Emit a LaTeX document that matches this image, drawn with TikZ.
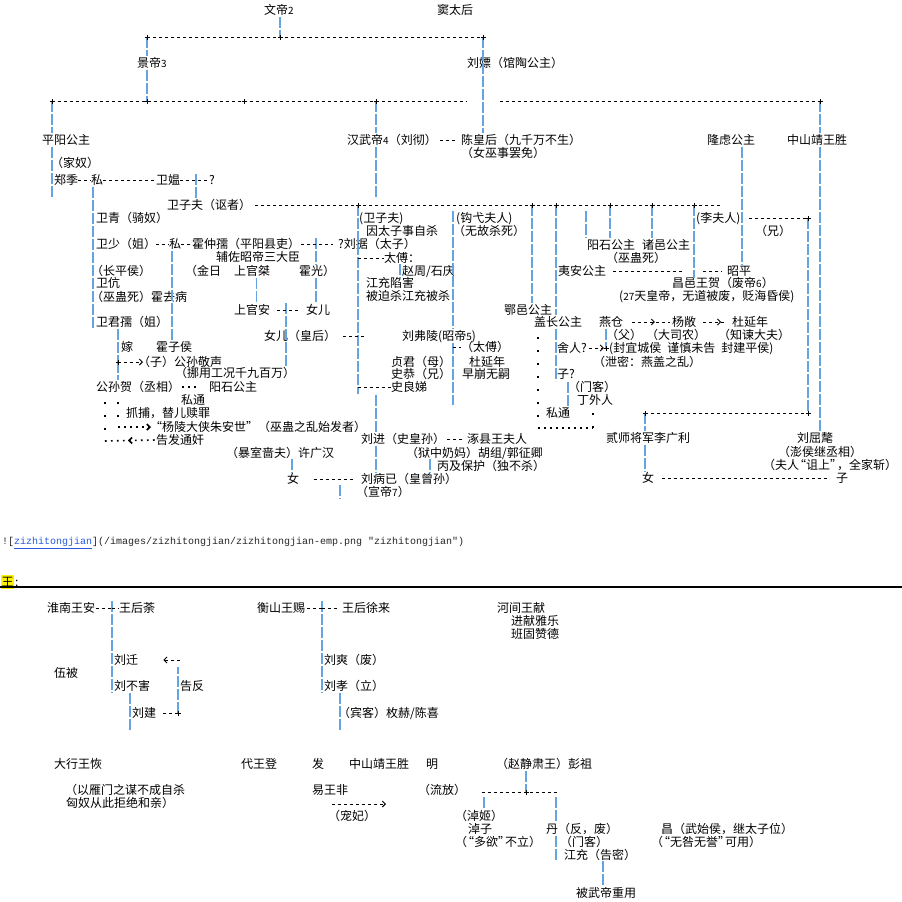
\documentclass[tikz,border=0pt]{standalone}
\usepackage{fontspec}
\setmainfont{Noto Sans CJK SC}
\newfontfamily\linkmono{Liberation Mono}
\usepackage{xcolor}
\usepackage{tikz}
\usetikzlibrary{arrows.meta,positioning,decorations.markings}
\definecolor{barblue}{RGB}{100,165,225}
\definecolor{linkblue}{RGB}{40,90,220}
\newcommand\dnum[1]{{\fontsize{10pt}{10pt}\selectfont #1}}
\newcommand\qopen{\kern-5pt“}
\newcommand\qclose{”\kern-5pt}

\begin{document}
\begin{tikzpicture}[x=1pt, y=-1pt,
  nm/.style={anchor=west, inner sep=0pt, text height=11pt, text depth=2pt, font=\fontsize{12pt}{13pt}\selectfont},
  jn/.style={inner sep=0pt, minimum size=0pt},
  vbar/.style={draw=barblue, line width=1.4pt, dash pattern=on 11pt off 2pt},
  hdash/.style={draw=black, line width=0.9pt, dash pattern=on 3pt off 3pt},
  dotv/.style={draw=black, line width=1.6pt, dash pattern=on 1.6pt off 11.4pt},
  doth/.style={draw=black, line width=1.6pt, dash pattern=on 1.6pt off 4.4pt},
  arrowend/.style={-{Straight Barb[length=3pt,width=6pt]}},
  midhead/.style={postaction={decorate}, decoration={markings, mark=at position #1 with {\arrow{Straight Barb[length=3pt,width=6pt]}}}},
  midback/.style={postaction={decorate}, decoration={markings, mark=at position #1 with {\arrowreversed{Straight Barb[length=3pt,width=6pt]}}}}
]
\fill[white] (0,0) rectangle (902,902);
\useasboundingbox (0,0) rectangle (902,902);

% 文帝 景帝 武帝
\node[nm] (wendi) at (264,10) {文帝\dnum{2}};
\node[nm] (doutaihou) at (437,10) {窦太后};
\node[nm] (jingdi) at (137,63) {景帝\dnum{3}};
\node[nm] (liupiao) at (467,63) {刘嫖（馆陶公主）};
\node[nm] (pingyang) at (42,140) {平阳公主};
\node[nm] (wudi) at (347,140) {汉武帝\dnum{4}（刘彻）};
\node[nm] (chenhou) at (461,140) {陈皇后（九千万不生）};
\node[nm] (chenhou2) at (461,153) {（女巫事罢免）};
\node[nm] (longlv) at (707,140) {隆虑公主};
\node[nm] (zhongshan) at (787,140) {中山靖王胜};

% 卫氏
\node[nm] (jianu) at (51,163) {（家奴）};
\node[nm] (zhengji) at (54,180) {郑季};
\node[nm] (si1) at (91,180) {私};
\node[nm] (weiao) at (156,180) {卫媪};
\node[nm] (wen1) at (209,180) {?};
\node[nm] (weizifu) at (167,205) {卫子夫（讴者）};
\node[nm] (weiqing) at (96,218) {卫青（骑奴）};
\node[nm] (weishao) at (96,244) {卫少（姐）};
\node[nm] (si2) at (169,244) {私};
\node[nm] (huozhongru) at (192,244) {霍仲孺（平阳县吏）};
\node[nm] (fuzuo) at (216,257) {辅佐昭帝三大臣};
\node[nm] (changping) at (91,271) {（长平侯）};
\node[nm] (jinri) at (185,271) {（金日};
\node[nm] (shangguanjie) at (234,271) {上官桀};
\node[nm] (huoguang) at (299,271) {霍光）};
\node[nm] (weikang) at (96,283) {卫伉};
\node[nm] (huoqubing) at (91,297) {（巫蛊死）霍去病};
\node[nm] (shangguanan) at (234,310) {上官安};
\node[nm] (nver1) at (306,310) {女儿};
\node[nm] (weijunru) at (96,322) {卫君孺（姐）};
\node[nm] (nver2) at (264,336) {女儿（皇后）};
\node[nm] (jia) at (121,347) {嫁};
\node[nm] (huozihou) at (156,347) {霍子侯};
\node[nm] (jingsheng) at (138,362) {（子）公孙敬声};
\node[nm] (nuoyong) at (175,373) {（挪用工况千九百万）};
\node[nm] (gongsunhe) at (96,387) {公孙贺（丞相）};
\node[nm] (yangshi2) at (209,387) {阳石公主};
\node[nm] (sitong1) at (181,400) {私通};
\node[nm] (zhuabu) at (126,413) {抓捕，替儿赎罪};
\node[nm] (zhuanshi) at (150,427) {“杨陵大侠朱安世”（巫蛊之乱始发者）};
\node[nm] (gaofa) at (156,440) {告发通奸};
\node[nm] (xuguanghan) at (226,453) {（暴室啬夫）许广汉};
\node[nm] (nv3) at (287,479) {女};

% 刘据 刘弗陵
\node[nm] (weizifu2) at (359,218) {(卫子夫)};
\node[nm] (yintaizi) at (366,231) {因太子事自杀};
\node[nm] (liuju) at (338,244) {?刘据（太子）};
\node[nm] (taifu) at (384,258) {太傅：};
\node[nm] (zhaozhou) at (402,271) {赵周/石庆};
\node[nm] (jiangchong) at (366,283) {江充陷害};
\node[nm] (beipo) at (366,296) {被迫杀江充被杀};
\node[nm] (liufuling) at (402,336) {刘弗陵(昭帝\dnum{5})};
\node[nm] (taifu2) at (461,347) {（太傅）};
\node[nm] (zhenjun) at (391,362) {贞君（母）};
\node[nm] (duyannian) at (469,362) {杜延年};
\node[nm] (shigong) at (391,374) {史恭（兄）};
\node[nm] (zaobeng) at (462,374) {早崩无嗣};
\node[nm] (shiliangdi) at (391,387) {史良娣};
\node[nm] (liujin) at (361,439) {刘进（史皇孙）};
\node[nm] (zhuoxian) at (467,439) {涿县王夫人};
\node[nm] (yuzhong) at (406,453) {（狱中奶妈）胡组/郭征卿};
\node[nm] (bingji) at (437,466) {丙及保护（独不杀）};
\node[nm] (liubingyi) at (361,479) {刘病已（皇曾孙）};
\node[nm] (xuandi) at (356,492) {（宣帝\dnum{7}）};

% 钩弋 公主 李夫人
\node[nm] (gouyi) at (456,218) {(钩弋夫人)};
\node[nm] (wugusha) at (453,231) {（无故杀死）};
\node[nm] (eyi) at (504,310) {鄂邑公主};
\node[nm] (yian) at (558,271) {夷安公主};
\node[nm] (gaizhang) at (534,322) {盖长公主};
\node[nm] (yangshi) at (587,245) {阳石公主};
\node[nm] (zhuyi) at (642,245) {诸邑公主};
\node[nm] (wugusi) at (606,258) {（巫蛊死）};
\node[nm] (lifuren) at (696,218) {(李夫人)};
\node[nm] (xiong) at (755,231) {（兄）};
\node[nm] (zhaoping) at (727,271) {昭平};
\node[nm] (changyi) at (672,283) {昌邑王贺（废帝\dnum{6}）};
\node[nm] (ershiqi) at (619,296) {(\dnum{27}天皇帝，无道被废，贬海昏侯)};
\node[nm] (yancang) at (599,322) {燕仓};
\node[nm] (yangchang) at (672,322) {杨敞};
\node[nm] (duyannian2) at (732,322) {杜延年};
\node[nm] (fu) at (606,335) {（父）};
\node[nm] (dasinong) at (646,335) {（大司农）};
\node[nm] (zhijian) at (718,335) {（知谏大夫）};
\node[nm] (sheren) at (557,348) {舍人?};
\node[nm] (fengyi) at (609,348) {(封宜城侯\hspace{6pt}谨慎未告\hspace{6pt}封建平侯)};
\node[nm] (xiemi) at (593,362) {（泄密：燕盖之乱）};
\node[nm] (zi1) at (557,374) {子?};
\node[nm] (menke) at (568,387) {（门客）};
\node[nm] (dingwairen) at (577,400) {丁外人};
\node[nm] (sitong2) at (546,413) {私通};
\node[nm] (ershi) at (606,438) {贰师将军李广利};
\node[nm] (liuqumao) at (797,438) {刘屈氂};
\node[nm] (pengheou) at (778,452) {（澎侯继丞相）};
\node[nm] (furen) at (763,465) {（夫人\qopen 诅上\qclose，全家斩）};
\node[nm] (nv4) at (642,478) {女};
\node[nm] (zi2) at (836,478) {子};

% 链接与分隔
\node[anchor=west, inner sep=0pt, text=black!85, font=\linkmono\fontsize{10pt}{12pt}\selectfont] (mdlink) at (2,543) {![{\color{linkblue}\underline{zizhitongjian}}](/images/zizhitongjian/zizhitongjian-emp.png "zizhitongjian")};
\node[nm, fill=yellow, inner sep=0.5pt] (wang) at (1,582) {王};
\node[nm, right=0.5pt of wang] (maohao) {:};
\coordinate (ruleL) at (0,587);
\coordinate (ruleR) at (902,587);
\draw[line width=1.3pt] (ruleL) -- (ruleR);

% 诸王
\node[nm] (huainan) at (47,608) {淮南王安};
\node[nm] (wanghoutu) at (119,608) {王后荼};
\node[nm] (liuqian) at (114,660) {刘迁};
\node[nm] (wubei) at (54,673) {伍被};
\node[nm] (liubuhai) at (114,686) {刘不害};
\node[nm] (gaofan) at (180,686) {告反};
\node[nm] (liujian) at (132,713) {刘建};
\node[nm] (hengshan) at (257,608) {衡山王赐};
\node[nm] (xulai) at (342,608) {王后徐来};
\node[nm] (liushuang) at (324,660) {刘爽（废）};
\node[nm] (liuxiao) at (324,686) {刘孝（立）};
\node[nm] (binke) at (338,713) {（宾客）枚赫/陈喜};
\node[nm] (hejian) at (497,608) {河间王献};
\node[nm] (jinxian) at (511,621) {进献雅乐};
\node[nm] (bangu) at (511,634) {班固赞德};
\node[nm] (daxing) at (54,764) {大行王恢};
\node[nm] (yanmen) at (65,790) {（以雁门之谋不成自杀};
\node[nm] (xiongnu) at (66,803) {匈奴从此拒绝和亲）};
\node[nm] (daiwang) at (241,764) {代王登};
\node[nm] (fa) at (312,764) {发};
\node[nm] (zhongshan2) at (349,764) {中山靖王胜};
\node[nm] (ming) at (426,764) {明};
\node[nm] (pengzu) at (496,764) {（赵静肃王）彭祖};
\node[nm] (yiwang) at (312,790) {易王非};
\node[nm] (liufang) at (418,790) {（流放）};
\node[nm] (chongfei) at (328,816) {（宠妃）};
\node[nm] (zhuoji) at (455,816) {（淖姬）};
\node[nm] (zhuozi) at (468,829) {淖子};
\node[nm] (duoyu) at (455,842) {（\qopen 多欲\qclose 不立）};
\node[nm] (dan) at (546,829) {丹（反，废）};
\node[nm] (menke2) at (560,842) {（门客）};
\node[nm] (jiangchong2) at (564,855) {江充（告密）};
\node[nm] (beiwudi) at (576,893) {被武帝重用};
\node[nm] (chang) at (661,829) {昌（武始侯，继太子位）};
\node[nm] (wujiu) at (651,842) {（\qopen 无咎无誉\qclose 可用）};

% 交点
\foreach \n/\x/\y in {jA/147/37, jB/280/37, jC/483/37, jD/52/101, jE/147/101, jF/244/101, jG/376/101, jH/820/101,
  jI/358/205, jJ/532/205, jK/556/205, jL/610/205, jM/652/205, jN/694/205, jO/808/218, jP/118/362,
  jQ/606/348, jR/645/413, jS/808/413, jT/178/713, jU/526/792}
  \node[jn] (\n) at (\x,\y) {};

\coordinate (gapL) at (467,101);
\coordinate (gapR) at (500,101);
\coordinate (zfEnd) at (721,205);
\coordinate (llv) at (742,147);
\coordinate (wb) at (196,174);
\coordinate (s1) at (93,187);
\coordinate (gy) at (453,211);
\coordinate (gyEnd) at (453,405);
\coordinate (ys) at (586,211);
\coordinate (hg) at (316,238);
\coordinate (hq) at (172,251);
\coordinate (sga) at (286,303);
\coordinate (hhEnd) at (366,336);
\coordinate (ga) at (105,402);
\coordinate (gb) at (105,441);
\coordinate (gc) at (118,402);
\coordinate (lj) at (376,395);
\coordinate (bj) at (430,459);
\coordinate (xg) at (292,459);
\coordinate (bx) at (340,485);
\coordinate (ysEnd) at (683,271);
\coordinate (zpL) at (703,271);
\coordinate (mk) at (568,382);
\coordinate (dT) at (538,337);
\coordinate (dA) at (538,428);
\coordinate (dB) at (593,428);

% 世系竖线
\draw[vbar] (wendi.south -| jB) -- (jB);
\draw[vbar] (jA) -- (jA |- jingdi.north) (jA |- jingdi.south) -- (jE);
\draw[vbar] (jC) -- (jC |- chenhou.north);
\draw[vbar] (jD) -- (jD |- pingyang.north) (jD |- pingyang.south) -- (jD |- weizifu.north);
\draw[vbar] (jG) -- (jG |- wudi.north) (jG |- wudi.south) -- (jG |- weizifu.north);
\draw[vbar] (jH) -- (jH |- zhongshan.north) (jH |- zhongshan.south) -- (jH |- liuqumao.north);
\draw[vbar] (llv) -- (llv |- zhaoping.north);
\draw[vbar] (wb) -- (wb |- weizifu.north);
\draw[vbar] (s1) -- (s1 |- weijunru.south);
\draw[vbar] (jI) -- (jI |- shiliangdi.south);
\draw[vbar] ([xshift=-2pt]zhaozhou.north west) -- ([xshift=-2pt]zhaozhou.south west);
\draw[vbar] (gy) -- (gy |- liufuling.north) (gy |- liufuling.south) -- (gyEnd);
\draw[vbar] (hg) -- (hg |- huoguang.north) (hg |- huoguang.south) -- (hg |- nver1.north);
\draw[vbar] (hq) -- (hq |- huozihou.north);
\draw[vbar] ([xshift=4pt]shangguanjie.south) -- ([xshift=4pt]shangguanan.north);
\draw[vbar] (sga) -- (sga |- nuoyong.north);
\draw[vbar] (weijunru.south -| jP) -- (jP) -- (jP |- gongsunhe.north);
\draw[vbar] (lj) -- (lj |- liujin.north) (lj |- liujin.south) -- (lj |- liubingyi.north);
\draw[vbar] (bj) -- (bj |- bingji.south);
\draw[vbar] (xg) -- (xg |- nv3.north);
\draw[vbar] (bx) -- (bx |- xuandi.south);
\draw[vbar] (jJ) -- (jJ |- eyi.north);
\draw[vbar] (jK) -- (jK |- gaizhang.north) (jK |- gaizhang.south) -- (jK |- zi1.south);
\draw[vbar] (ys) -- (ys |- yangshi.north);
\draw[vbar] (jL) -- (jL |- yangshi.north);
\draw[vbar] (jM) -- (jM |- zhuyi.north);
\draw[vbar] (jN) -- (jN |- zhaoping.south);
\draw[vbar] (jO) -- (jS);
\draw[vbar] (jR) -- (jR |- ershi.north) (jR |- ershi.south) -- (jR |- nv4.north);
\draw[vbar] (jQ |- yancang.south) -- (jQ);
\draw[vbar] (mk) -- (mk |- dingwairen.south);

% 横线
\draw[hdash] (jA) -- (jC);
\draw[hdash] (jD) -- (gapL) (gapR) -- (jH);
\draw[hdash] ([xshift=3pt]wudi.east) -- ([xshift=-5pt]chenhou.west);
\draw[hdash] (zhengji.east) -- (si1.west) (si1.east) -- (weiao.west) (weiao.east) -- (wen1.west);
\draw[hdash] ([xshift=4pt]weizifu.east) -- (zfEnd);
\draw[hdash] (jI |- taifu) -- (taifu.west);
\draw[hdash] (jI |- shiliangdi) -- (shiliangdi.west);
\draw[hdash] (gy |- taifu2) -- (taifu2.west);
\draw[hdash] (weishao.east) -- (si2.west) (si2.east) -- (huozhongru.west);
\draw[hdash] ([xshift=1pt]huozhongru.east) -- ([xshift=-5pt]liuju.west);
\draw[hdash] ([xshift=7pt]shangguanan.east) -- ([xshift=-5pt]nver1.west);
\draw[hdash] ([xshift=7pt]nver2.east) -- (hhEnd);
\draw[hdash, arrowend] (jP) -- ([xshift=5pt]jingsheng.west);
\draw[hdash] ([xshift=2pt]liujin.east) -- ([xshift=-3pt]zhuoxian.west);
\draw[hdash] ([xshift=15pt]nv3.east) -- ([xshift=-8pt]liubingyi.west);
\draw[hdash] ([xshift=7pt]yian.east) -- (ysEnd);
\draw[hdash] (zpL) -- ([xshift=-5pt]zhaoping.west);
\draw[hdash] ([xshift=8pt]lifuren.east) -- (jO);
\draw[hdash] (jR) -- (jS);
\draw[hdash] ([xshift=8pt]nv4.east) -- ([xshift=-8pt]zi2.west);
\draw[hdash, midhead=0.6] ([xshift=9pt]yancang.east) -- ([xshift=-2pt]yangchang.west);
\draw[hdash, midhead=0.75] ([xshift=7pt]yangchang.east) -- ([xshift=-5pt]duyannian2.west);
\draw[hdash, arrowend] ([xshift=2pt]sheren.east) -- ([xshift=-2pt]jQ.west);

% 私通 告发
\draw[doth] ([xshift=2pt]gongsunhe.east) -- ([xshift=-9pt]yangshi2.west);
\draw[dotv] (ga) -- (gb);
\draw[doth, midback=0.45] (gb) -- (gaofa.west);
\draw[dotv] (gc) -- (gc |- zhuanshi);
\draw[doth, arrowend] (gc |- zhuanshi) -- ([xshift=1pt]zhuanshi.west);
\draw[dotv] (dT) -- (dA);
\draw[doth] (dA) -- (dB);
\draw[dotv] (dB) -- (dB |- sitong2);

% 诸王连线
\coordinate (hn) at (112,601);
\coordinate (gq) at (180,660);
\coordinate (gqB) at (178,667);
\coordinate (lb) at (130,693);
\coordinate (lbE) at (130,730);
\coordinate (hs) at (322,601);
\coordinate (bk) at (340,693);
\coordinate (bkE) at (340,730);
\coordinate (pzL) at (482,792);
\coordinate (pzR) at (558,792);
\coordinate (zj) at (484,797);
\coordinate (dn) at (556,797);
\coordinate (wd) at (603,861);
\coordinate (cf1) at (332,804);
\coordinate (cf2) at (386,804);

\draw[vbar] (hn) -- (hn |- liubuhai.south);
\draw[hdash] ([xshift=1pt]huainan.east) -- (hn |- huainan);
\draw[hdash] (hn |- wanghoutu) -- (wanghoutu.west);
\draw[hdash] ([xshift=7pt]liujian.east) -- (jT);
\draw[vbar] (jT) -- (gqB);
\draw[hdash, arrowend] (gq) -- ([xshift=25pt]liuqian.east);
\draw[vbar] (lb) -- (lbE);
\draw[vbar] (hs) -- (hs |- liuxiao.south);
\draw[hdash] ([xshift=2pt]hengshan.east) -- (hs |- hengshan);
\draw[hdash] (hs |- xulai) -- ([xshift=-2pt]xulai.west);
\draw[vbar] (bk) -- (bkE);
\draw[vbar] (jU |- pengzu.south) -- (jU);
\draw[hdash] (pzL) -- (pzR);
\draw[vbar] (zj) -- (zj |- zhuoji.north);
\draw[vbar] (dn) -- (dn |- dan.north) (dn |- dan.south) -- (dn |- jiangchong2.south);
\draw[vbar] (wd) -- (wd |- beiwudi.north);
\draw[hdash, arrowend] (cf1) -- (cf2);

% 十字交点
\foreach \n in {jA,jB,jC,jD,jE,jF,jG,jH,jI,jJ,jK,jL,jM,jN,jO,jP,jQ,jR,jS,jT,jU}
  \draw[line width=0.8pt] ([xshift=-2.5pt]\n.center) -- ([xshift=2.5pt]\n.center)
    ([yshift=-2.5pt]\n.center) -- ([yshift=2.5pt]\n.center);
\end{tikzpicture}
\end{document}
